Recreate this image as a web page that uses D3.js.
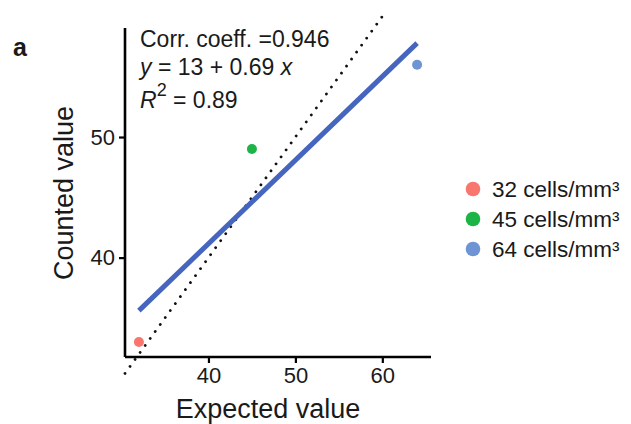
<!DOCTYPE html>
<html><head><meta charset="utf-8">
<script src="https://cdn.jsdelivr.net/npm/d3@7"></script>
<style>body{margin:0;background:#fff}text{font-family:"Liberation Sans",Arial,sans-serif;fill:#1a1a1a}</style>
</head><body><svg id="c" width="631" height="424"></svg>
<script>
const labels = ["32 cells/mm³", "45 cells/mm³", "64 cells/mm³"];
const expected = [32, 45, 64];
const counted = [33, 49, 56];
const colors = ["#F8766D", "#1DB447", "#6E94D3"];
const xTicks = [40, 50, 60];
const yTicks = [40, 50];
const fitIntercept = 13.43, fitSlope = 0.693;

const svg = d3.select("#c");
const x = d3.scaleLinear().domain([30.4, 65.6]).range([125, 431]);
const y = d3.scaleLinear().domain([31.76, 59.04]).range([357, 28]);

// identity dotted line
svg.append("line")
  .attr("x1", x(30.4)).attr("y1", y(30.4))
  .attr("x2", x(60.2)).attr("y2", y(60.2))
  .attr("stroke", "#111").attr("stroke-width", 2.8)
  .attr("stroke-linecap", "round").attr("stroke-dasharray", "0.01 8.6");

// regression line
const x0 = d3.min(expected), x1 = d3.max(expected);
svg.append("line")
  .attr("x1", x(x0)).attr("y1", y(fitIntercept + fitSlope * x0))
  .attr("x2", x(x1)).attr("y2", y(fitIntercept + fitSlope * x1))
  .attr("stroke", "#4565BE").attr("stroke-width", 5);

// points
svg.selectAll("circle.pt").data(expected).join("circle").attr("class", "pt")
  .attr("cx", (d, i) => x(d)).attr("cy", (d, i) => y(counted[i]))
  .attr("r", 5).attr("fill", (d, i) => colors[i]);

// axes
const xa = svg.append("g").attr("transform", "translate(0,357)")
  .call(d3.axisBottom(x).tickValues(xTicks).tickSize(6).tickPadding(4));
const ya = svg.append("g").attr("transform", "translate(125,0)")
  .call(d3.axisLeft(y).tickValues(yTicks).tickSize(6).tickPadding(4));
[xa, ya].forEach(g => {
  g.select(".domain").attr("stroke", "#000").attr("stroke-width", 2.6);
  g.selectAll(".tick line").attr("stroke", "#000").attr("stroke-width", 2.2);
  g.selectAll(".tick text").attr("font-size", 22).attr("fill", "#1a1a1a")
    .style("font-family", "Liberation Sans, Arial, sans-serif");
});
xa.select(".domain").attr("d", "M125,0H431");
ya.select(".domain").attr("d", "M0,28V357");

// axis titles
svg.append("text").attr("x", 268).attr("y", 418).attr("text-anchor", "middle")
  .attr("font-size", 27).text("Expected value");
svg.append("text").attr("transform", "translate(73,193) rotate(-90)")
  .attr("text-anchor", "middle").attr("font-size", 27).text("Counted value");

// panel tag
svg.append("text").attr("x", 13).attr("y", 56).attr("font-size", 25)
  .attr("font-weight", "bold").attr("fill", "#111").text("a");

// annotation
svg.append("text").attr("x", 140).attr("y", 46.5).attr("font-size", 23)
  .text("Corr. coeff. =0.946");
const t2 = svg.append("text").attr("x", 140).attr("y", 74.5).attr("font-size", 23);
t2.append("tspan").attr("font-style", "italic").text("y");
t2.append("tspan").text(" = 13 + 0.69 ");
t2.append("tspan").attr("font-style", "italic").text("x");
const t3 = svg.append("text").attr("x", 140).attr("y", 108).attr("font-size", 23);
t3.append("tspan").attr("font-style", "italic").text("R");
t3.append("tspan").attr("font-size", 18).attr("dy", -12).text("2");
t3.append("tspan").attr("dy", 12).text(" = 0.89");

// legend
const lg = svg.append("g");
labels.forEach((l, i) => {
  const yy = 189 + i * 30;
  lg.append("circle").attr("cx", 473).attr("cy", yy).attr("r", 7.3).attr("fill", colors[i]);
  lg.append("text").attr("x", 492).attr("y", yy + 8).attr("font-size", 22.5).text(l);
});
</script></body></html>
